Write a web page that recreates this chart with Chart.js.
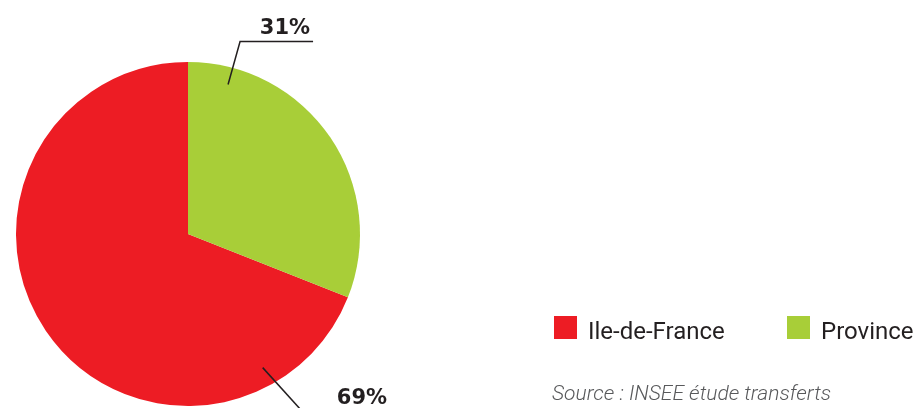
<!DOCTYPE html>
<html><head><meta charset="utf-8">
<script src="https://cdn.jsdelivr.net/npm/chart.js@4/dist/chart.umd.min.js"></script>
<style>html,body{margin:0;padding:0;background:#fff;}#wrap{width:920px;height:408px;position:relative;}</style>
</head><body><div id="wrap"><canvas id="c" width="920" height="408"></canvas></div>
<script>
const categories = ['Ile-de-France', 'Province'];
const values = [69, 31];
const colors = ['#ED1C24', '#A8CE38'];
const sourceText = 'Source : INSEE étude transferts';

const total = values.reduce((a, b) => a + b, 0);

const overlay = {
  id: 'overlay',
  afterDraw(chart) {
    const ctx = chart.ctx;
    const meta = chart.getDatasetMeta(0);
    ctx.save();
    // leader lines + labels
    const specs = [
      {i: 1, a: -75, r1: 0.90, dx: 12, dy: -43, hx: 73, tx: 285, ty: 34},
      {i: 0, a: 60.8, r1: 0.89, dx: 38, dy: 42, hx: 0, tx: 362, ty: 404}
    ];
    specs.forEach(s => {
      const arc = meta.data[s.i];
      const cx = arc.x, cy = arc.y, R = arc.outerRadius;
      const rad = s.a * Math.PI / 180;
      const x1 = cx + Math.cos(rad) * R * s.r1, y1 = cy + Math.sin(rad) * R * s.r1;
      const x2 = x1 + s.dx, y2 = y1 + s.dy;
      ctx.strokeStyle = '#231F20';
      ctx.lineWidth = 1.5;
      ctx.beginPath();
      ctx.moveTo(x1, y1);
      ctx.lineTo(x2, y2);
      if (s.hx) ctx.lineTo(x2 + s.hx, y2);
      ctx.stroke();
      ctx.fillStyle = '#231F20';
      ctx.font = 'bold 21px "DejaVu Sans"';
      ctx.textAlign = 'center';
      ctx.textBaseline = 'alphabetic';
      ctx.fillText(Math.round(values[s.i] / total * 100) + '%', s.tx, s.ty);
    });
    // legend
    const leg = [{x: 554}, {x: 787}];
    categories.forEach((c, i) => {
      ctx.fillStyle = colors[i];
      ctx.fillRect(leg[i].x, 316, 23, 23);
      ctx.fillStyle = '#231F20';
      ctx.font = '400 24px Roboto';
      ctx.textAlign = 'left';
      ctx.textBaseline = 'alphabetic';
      ctx.fillText(c, leg[i].x + 34, 339);
    });
    // source
    ctx.fillStyle = '#58595B';
    ctx.font = 'italic 300 21px Roboto';
    ctx.fillText(sourceText, 552, 400);
    ctx.restore();
  }
};

new Chart(document.getElementById('c'), {
  type: 'pie',
  data: {
    labels: categories,
    datasets: [{
      data: values,
      backgroundColor: colors,
      borderWidth: 0
    }]
  },
  options: {
    responsive: false,
    animation: false,
    rotation: values[1] / total * 360,
    layout: {padding: {left: 16, right: 560, top: 62, bottom: 2}},
    plugins: {legend: {display: false}, tooltip: {enabled: false}}
  },
  plugins: [overlay]
});
</script></body></html>
